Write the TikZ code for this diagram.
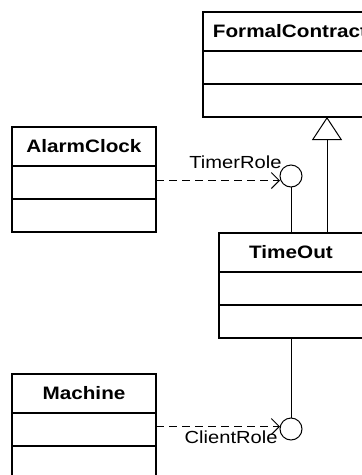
\documentclass[tikz,border=0pt]{standalone}
\usepackage{fontspec}
\setmainfont[FakeStretch=1.15]{Liberation Sans}
\newfontfamily\rolefont[FakeStretch=1.15]{Liberation Sans}
\usepackage{tikz}
\usetikzlibrary{positioning}
\usetikzlibrary{arrows.meta}

\begin{document}
\begin{tikzpicture}[x=1pt, y=-1pt,
		classname/.style={draw, line width=1.3pt, outer sep=0pt, inner sep=0pt,
			minimum width=144pt, minimum height=39pt, font=\fontsize{18}{20}\selectfont\bfseries},
		compart/.style={draw, line width=1.3pt, outer sep=0pt, inner sep=0pt,
			minimum width=144pt, minimum height=33pt},
		lolli/.style={circle, draw, line width=1pt, outer sep=0pt, minimum size=22pt, inner sep=0pt},
		role/.style={font=\rolefont\fontsize{17.5}{19}\selectfont, inner sep=0pt},
		depend/.style={dashed, dash pattern=on 8pt off 5pt, line width=1pt,
			-{Straight Barb[length=8pt, width=16pt, line width=1pt]}},
		gen/.style={line width=1pt, -{Triangle[open, length=23pt, width=30pt, line width=1pt, fill=white]}}]
		\useasboundingbox (0,0) rectangle (362,475);
		\clip (0,0) rectangle (362,475);
		% classes
		\node [classname, anchor=north west, minimum width=172pt] (formal) at (203,12) {\hspace*{2pt}FormalContract\hfill};
		\node [compart, below=0pt of formal, minimum width=172pt] (formal2) {};
		\node [compart, below=0pt of formal2, minimum width=172pt] (formal3) {};
		\node [classname, anchor=north west] (alarm) at (12,127) {AlarmClock};
		\node [compart, below=0pt of alarm] (alarm2) {};
		\node [compart, below=0pt of alarm2] (alarm3) {};
		\node [classname, anchor=north west] (timeout) at (219,233) {TimeOut};
		\node [compart, below=0pt of timeout] (timeout2) {};
		\node [compart, below=0pt of timeout2] (timeout3) {};
		\node [classname, anchor=north west] (machine) at (12,374) {Machine};
		\node [compart, below=0pt of machine] (machine2) {};
		\node [compart, below=0pt of machine2] (machine3) {};
		% interfaces
		\node [lolli] (timerrole) at (291,176) {};
		\node [lolli] (clientrole) at (291,429) {};
		\draw [line width=1pt] (timerrole.south) -- (timeout.north);
		\draw [line width=1pt] (timeout3.south) -- (clientrole.north);
		% generalization
		\coordinate (genfoot) at ([xshift=-36pt]timeout.north east);
		\draw [gen] (genfoot) -- (genfoot |- formal3.south);
		% dependencies
		\draw [depend] ([yshift=2pt]alarm2.east) -- ([yshift=2pt]alarm2.east -| timerrole.west)
			node [role, anchor=base east, yshift=12pt, xshift=2pt] {TimerRole};
		\draw [depend] ([yshift=3pt]machine2.east) -- ([yshift=3pt]machine2.east -| clientrole.west)
			node [role, anchor=base east, yshift=-17pt, xshift=-2pt] {ClientRole};
\end{tikzpicture}
\end{document}
